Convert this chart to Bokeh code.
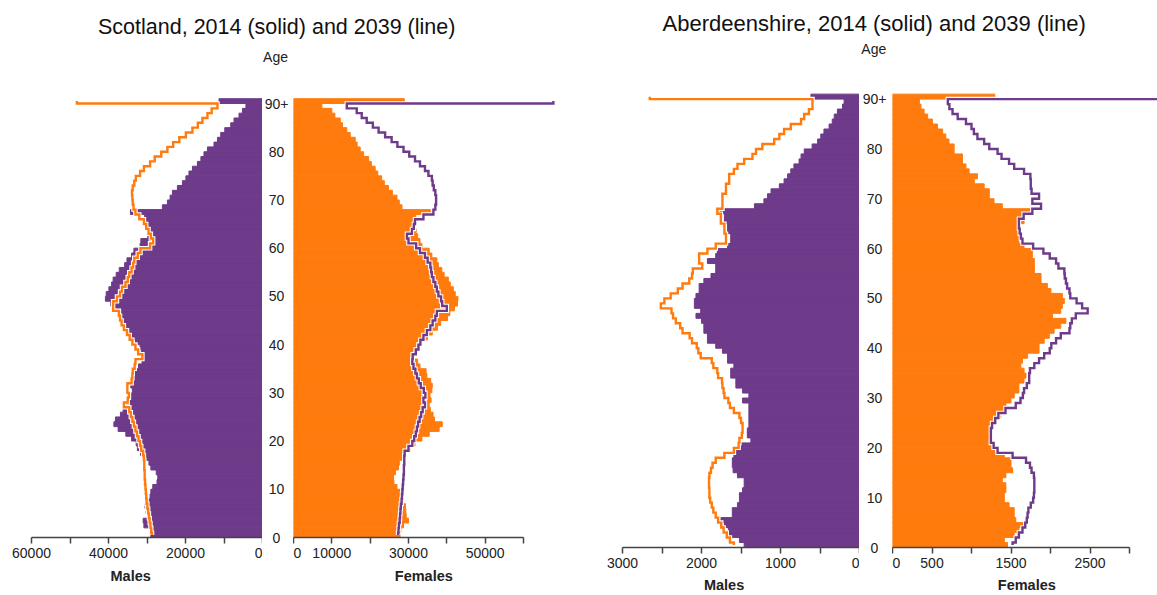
from bokeh.plotting import figure
from bokeh.layouts import row, column
from bokeh.models import Range1d, FixedTicker, LinearAxis
from bokeh.core.properties import value
from bokeh.embed import file_html
from bokeh.resources import INLINE

# ---------------- data ----------------
AGES = list(range(91))
AGE_TICKS = [0, 10, 20, 30, 40, 50, 60, 70, 80, 90]
AGE_LABELS = ["0", "10", "20", "30", "40", "50", "60", "70", "80", "90+"]

SCOT_TICKS = [0, 10000, 20000, 30000, 40000, 50000, 60000]
SCOT_M_LABELS = [0, 20000, 40000, 60000]
SCOT_F_LABELS = [0, 10000, 30000, 50000]
ABER_TICKS = [0, 500, 1000, 1500, 2000, 2500, 3000]
ABER_M_LABELS = [0, 1000, 2000, 3000]
ABER_F_LABELS = [0, 500, 1500, 2500]

scot_m_2014 = [
    29000, 29200, 30800, 31000, 29800, 30200, 30500, 29900, 29200, 29000,
    28500, 27400, 27200, 27600, 29000, 29500, 30200, 31700, 32500, 32800,
    34000, 35500, 37500, 38600, 38200, 36900, 36200, 35500, 34500, 34000,
    33800, 34200, 33600, 33200, 33000, 32200, 31300, 31100, 31500, 31800,
    33000, 34200, 35000, 36200, 36800, 37200, 37500, 38600, 39400, 40800,
    40600, 39900, 39200, 38800, 38000, 37200, 35800, 35200, 34000, 33400,
    31800, 31600, 29800, 29400, 30000, 30200, 30600, 34300, 26000, 24700,
    24000, 23400, 22100, 20800, 19900, 19100, 18200, 16900, 16000, 15200,
    14300, 12600, 11700, 10850, 9800, 8250, 7400, 6100, 5200, 4300,
    11300]
scot_m_2039 = [
    28700, 28900, 29100, 29300, 29500, 29700, 29900, 30100, 30200, 30300,
    30400, 30500, 30600, 30600, 30700, 30700, 30800, 31000, 31500, 31800,
    32200, 32600, 33000, 33400, 33800, 34200, 34600, 36000, 35000, 34700,
    35100, 35100, 34000, 33800, 33700, 33200, 33000, 31200, 32300, 33000,
    33800, 34500, 35200, 36000, 36600, 37000, 37300, 38800, 38800, 37800,
    37000, 36500, 35600, 35000, 34600, 34000, 33600, 33300, 32400, 31700,
    29200, 28400, 29000, 29600, 30200, 30800, 32000, 33000, 33500, 33700,
    33800, 33900, 33700, 33300, 32900, 31800, 30800, 29200, 28000, 26300,
    24700, 23200, 21600, 19900, 18200, 16800, 15600, 14300, 13200, 11700,
    48200]
scot_f_2014 = [
    27800, 28000, 28700, 30000, 29400, 29300, 29200, 28400, 27900, 27800,
    27000, 26200, 26100, 26600, 27400, 27600, 28400, 29200, 30500, 31700,
    33500, 35400, 38000, 38800, 36800, 36400, 35700, 35400, 35900, 35600,
    36100, 36200, 35800, 34800, 34600, 33000, 32400, 31300, 31200, 32600,
    33400, 35000, 36200, 37600, 38400, 40200, 40800, 42000, 42800, 42900,
    42200, 41700, 40900, 40400, 39300, 38700, 37800, 37400, 36100, 35400,
    33500, 33000, 32400, 32000, 31800, 31600, 31900, 35700, 28300, 27600,
    27000, 25800, 24800, 23700, 23000, 22000, 21300, 20300, 19600, 18300,
    17400, 16600, 16100, 14800, 13900, 12800, 12200, 10800, 10000, 7400,
    28900]
scot_f_2039 = [
    27300, 27400, 27500, 27700, 27800, 27900, 28000, 28200, 28300, 28400,
    28500, 28600, 28700, 28800, 28800, 28900, 28900, 29000, 30000, 31000,
    31500, 31900, 32200, 32500, 32900, 33300, 33700, 34300, 33900, 34400,
    34000, 33200, 32700, 32200, 31800, 31300, 31000, 31100, 31900, 32600,
    33100, 33900, 34800, 35700, 36300, 37000, 37400, 40000, 38800, 38500,
    37800, 37400, 37000, 36500, 36100, 35900, 35700, 35000, 34300, 33000,
    32000, 30000, 29600, 30900, 31400, 31700, 33900, 36500, 37000, 37200,
    37200, 37000, 36600, 36300, 36100, 35200, 34300, 33000, 31700, 30200,
    28700, 27100, 25600, 23900, 22200, 20700, 19100, 17800, 16500, 13900,
    67800]

aber_m_2014 = [
    1460, 1520, 1660, 1660, 1710, 1755, 1610, 1610, 1545, 1520,
    1520, 1480, 1460, 1460, 1545, 1600, 1610, 1610, 1590, 1565,
    1500, 1375, 1420, 1420, 1400, 1400, 1400, 1400, 1400, 1480,
    1400, 1480, 1565, 1565, 1630, 1630, 1590, 1670, 1670, 1735,
    1820, 1925, 1925, 1970, 1970, 2000, 2070, 2010, 2090, 2090,
    2070, 2030, 2030, 1970, 1880, 1820, 1820, 1925, 1820, 1800,
    1670, 1630, 1630, 1670, 1670, 1710, 1710, 1820, 1330, 1210,
    1165, 1120, 1015, 955, 910, 870, 830, 765, 740, 700,
    600, 530, 490, 450, 385, 345, 320, 280, 215, 195,
    615]
aber_m_2039 = [
    1590, 1640, 1680, 1720, 1750, 1790, 1820, 1850, 1870, 1890,
    1900, 1900, 1905, 1905, 1900, 1880, 1860, 1820, 1710, 1590,
    1530, 1520, 1490, 1480, 1480, 1500, 1520, 1590, 1640, 1660,
    1710, 1720, 1735, 1740, 1790, 1800, 1850, 1870, 2010, 2040,
    2060, 2120, 2150, 2240, 2270, 2325, 2360, 2380, 2515, 2470,
    2390, 2300, 2240, 2155, 2120, 2110, 1990, 2030, 2030, 1925,
    1820, 1690, 1690, 1710, 1710, 1755, 1755, 1800, 1735, 1735,
    1735, 1690, 1690, 1650, 1650, 1590, 1545, 1460, 1355, 1310,
    1230, 1080, 1015, 955, 870, 740, 700, 640, 595, 595,
    2655]
aber_f_2014 = [
    1455, 1415, 1540, 1600, 1665, 1560, 1540, 1540, 1475, 1415,
    1415, 1435, 1435, 1390, 1435, 1520, 1500, 1500, 1415, 1290,
    1290, 1245, 1265, 1265, 1245, 1265, 1370, 1435, 1435, 1500,
    1540, 1600, 1600, 1665, 1690, 1665, 1625, 1645, 1710, 1855,
    1855, 1920, 1985, 2045, 2130, 2195, 2025, 2130, 2150, 2175,
    2150, 2005, 1960, 1880, 1880, 1795, 1795, 1795, 1770, 1770,
    1665, 1600, 1600, 1600, 1600, 1665, 1665, 1770, 1390, 1285,
    1225, 1225, 1160, 1035, 1075, 970, 930, 885, 885, 780,
    780, 715, 675, 635, 570, 505, 445, 400, 360, 340,
    1295]
aber_f_2039 = [
    1520, 1560, 1600, 1645, 1680, 1700, 1710, 1720, 1750, 1780,
    1790, 1795, 1795, 1795, 1790, 1760, 1740, 1690, 1520, 1330,
    1280, 1245, 1245, 1245, 1260, 1300, 1340, 1430, 1560, 1620,
    1650, 1665, 1700, 1730, 1730, 1740, 1795, 1855, 1920, 1990,
    2010, 2070, 2130, 2240, 2250, 2270, 2320, 2470, 2400, 2330,
    2250, 2240, 2210, 2195, 2180, 2175, 2100, 2070, 1990, 1910,
    1780, 1645, 1625, 1610, 1600, 1600, 1660, 1770, 1880, 1770,
    1855, 1760, 1750, 1750, 1745, 1665, 1540, 1475, 1380, 1330,
    1225, 1160, 1075, 1030, 1000, 930, 825, 760, 720, 700,
    3500]

# ---------------- style ----------------
PURPLE = "#6E3A8A"
ORANGE = "#FF7B0E"
FONT = "Liberation Sans"
AXIS_COLOR = "#444444"
TEXT_COLOR = "#222222"


def step_path(vals):
    """Vertical step outline: one vertical run per age band, midpoint steps."""
    xs, ys = [], []
    n = len(vals)
    for i, v in enumerate(vals):
        y0 = i if i > 0 else i + 0.5
        y1 = i + 1 if i < n - 1 else i + 0.5
        xs += [v, v]
        ys += [y0, y1]
    return xs, ys


def base_fig(width, height, xr, yr, **kw):
    p = figure(width=width, height=height, x_range=xr, y_range=yr,
               output_backend="svg", toolbar_location=None,
               y_axis_location=None, frame_align=False, **kw)
    p.grid.visible = False
    p.outline_line_color = None
    return p


def panel(width, frame_h, bottom, left_b, right_b, xr, yr, ticks, shown,
          bars, line, bar_color, line_color, axis_name, name_x, name_standoff):
    p = base_fig(width, frame_h + bottom, xr, yr,
                 min_border_left=left_b, min_border_right=right_b,
                 min_border_top=0, min_border_bottom=bottom)
    p.hbar(y=[a + 0.5 for a in AGES], height=1, left=0, right=bars,
           fill_color=bar_color, line_color=bar_color, line_width=1)
    xs, ys = step_path(line)
    p.line(xs, ys, line_color="white", line_width=4.5, line_join="miter")
    p.line(xs, ys, line_color=line_color, line_width=2.4, line_join="miter")
    ax = p.xaxis[0]
    ax.axis_label = None
    ax.ticker = FixedTicker(ticks=ticks)
    ax.major_label_overrides = {t: (str(t) if t in shown else "") for t in ticks}
    ax.bounds = (min(ticks), max(ticks))
    ax.axis_line_color = AXIS_COLOR
    ax.axis_line_width = 1.5
    ax.major_tick_line_color = AXIS_COLOR
    ax.major_tick_line_width = 1.5
    ax.major_tick_in = 0
    ax.major_tick_out = 6
    ax.minor_tick_line_color = None
    ax.major_label_standoff = 4
    ax.major_label_text_font = FONT
    ax.major_label_text_font_size = "14px"
    ax.major_label_text_color = TEXT_COLOR
    # axis title, placed on the data scale under the axis
    name_ax = LinearAxis(ticker=FixedTicker(ticks=[name_x]),
                         major_label_overrides={name_x: axis_name},
                         axis_line_color=None, major_tick_line_color=None,
                         minor_tick_line_color=None, major_tick_in=0,
                         major_tick_out=0, major_label_standoff=name_standoff,
                         major_label_text_font=FONT,
                         major_label_text_font_size="14.5px",
                         major_label_text_font_style="bold",
                         major_label_text_color=TEXT_COLOR)
    p.add_layout(name_ax, "below")
    return p


def age_column(width, height, yr, cx):
    m = base_fig(width, height, Range1d(0, width), yr,
                 x_axis_location=None, min_border=0)
    m.text(x=[cx] * len(AGE_TICKS), y=AGE_TICKS, text=AGE_LABELS,
           text_font=value(FONT), text_font_size="14px", text_color=TEXT_COLOR,
           text_align="center", text_baseline="middle")
    return m


H = 507           # height of the panel row (page y 88 .. 595)
S_PX = 4.822      # px per year of age (Scotland)
S_FRAME = 449     # frame: page y 88 .. 537
s_yr = Range1d(0, S_FRAME / S_PX)
s_mid_yr = Range1d(-(H - S_FRAME) / S_PX, S_FRAME / S_PX)
A_PX = 4.982      # px per year of age (Aberdeenshire)
A_FRAME = 459     # frame: page y 88 .. 547
a_yr = Range1d(0, A_FRAME / A_PX)
a_mid_yr = Range1d(-(H - A_FRAME) / A_PX, A_FRAME / A_PX)

sm = panel(262, S_FRAME, H - S_FRAME, 31, 0, Range1d(60000, 0), s_yr,
           SCOT_TICKS, SCOT_M_LABELS, scot_m_2014, scot_m_2039,
           PURPLE, ORANGE, "Males", 34250, 7)
s_mid = age_column(31, H, s_mid_yr, 14)
sf = panel(290, S_FRAME, H - S_FRAME, 0, 21, Range1d(0, 70180), s_yr,
           SCOT_TICKS, SCOT_F_LABELS, scot_f_2014, scot_f_2039,
           ORANGE, PURPLE, "Females", 34000, 7)

am = panel(276, A_FRAME, H - A_FRAME, 39, 0, Range1d(3000, 0), a_yr,
           ABER_TICKS, ABER_M_LABELS, aber_m_2014, aber_m_2039,
           PURPLE, ORANGE, "Males", 1714, 6)
a_mid = age_column(33, H, a_mid_yr, 15)
af = panel(265, A_FRAME, H - A_FRAME, 0, 0, Range1d(0, 3354), a_yr,
           ABER_TICKS, ABER_F_LABELS, aber_f_2014, aber_f_2039,
           ORANGE, PURPLE, "Females", 1700, 6)

# title strip (page y 0 .. 88); y measured upward from its bottom edge
TW, TH = 1157, 88
t = base_fig(TW, TH, Range1d(0, TW), Range1d(0, TH),
             x_axis_location=None, min_border=0)
t.text(x=[276.2], y=[61.5], text=["Scotland, 2014 (solid) and 2039 (line)"],
       text_font=value(FONT), text_font_size="21.5px", text_color="#111111",
       text_align="center", text_baseline="middle")
t.text(x=[275], y=[31.8], text=["Age"], text_font=value(FONT),
       text_font_size="14px", text_color=TEXT_COLOR,
       text_align="center", text_baseline="middle")
t.text(x=[873.7], y=[65], text=["Aberdeenshire, 2014 (solid) and 2039 (line)"],
       text_font=value(FONT), text_font_size="22px", text_color="#111111",
       text_align="center", text_baseline="middle")
t.text(x=[873.3], y=[39.8], text=["Age"], text_font=value(FONT),
       text_font_size="14px", text_color=TEXT_COLOR,
       text_align="center", text_baseline="middle")

layout = column(t, row(sm, s_mid, sf, am, a_mid, af, spacing=0), spacing=0)

open("out.html", "w").write(file_html(layout, INLINE))
